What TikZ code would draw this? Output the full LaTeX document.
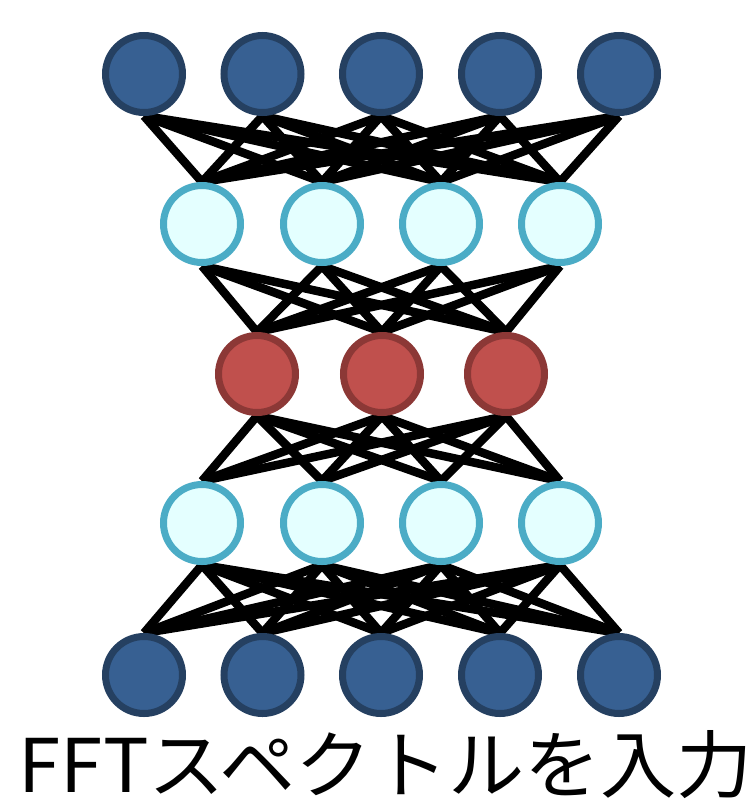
\documentclass[tikz,border=0pt]{standalone}
\usepackage{fontspec}
\newfontfamily\jpfont[FakeStretch=1.03]{Noto Sans CJK JP}
\usetikzlibrary{backgrounds}
\definecolor{inFill}{RGB}{55,96,146}
\definecolor{inRing}{RGB}{37,64,97}
\definecolor{hidFill}{RGB}{228,255,255}
\definecolor{hidRing}{RGB}{75,172,198}
\definecolor{midFill}{RGB}{192,80,77}
\definecolor{midRing}{RGB}{140,56,54}
\tikzset{
  neuron/.style={circle, minimum size=77pt, inner sep=0pt, line width=7pt},
  outer/.style={neuron, fill=inFill, draw=inRing},
  hidden/.style={neuron, fill=hidFill, draw=hidRing},
  code/.style={neuron, fill=midFill, draw=midRing},
  link/.style={line width=8.5pt, black}
}
\begin{document}
\begin{tikzpicture}[x=1pt, y=-1pt]
\useasboundingbox (0,0) rectangle (752,801);
% input / output layers
\foreach \i/\x in {1/144, 2/262.5, 3/381, 4/500, 5/619} {
  \node[outer] (a\i) at (\x,74) {};
  \node[outer] (e\i) at (\x,675) {};
}
% hidden layers
\foreach \i/\x in {1/202, 2/322, 3/441, 4/560} {
  \node[hidden] (b\i) at (\x,224) {};
  \node[hidden] (d\i) at (\x,523) {};
}
% bottleneck layer
\foreach \i/\x in {1/257, 2/382, 3/506} {
  \node[code] (c\i) at (\x,374) {};
}
% full connections between neighbouring layers
\begin{pgfonlayer}{background}
\foreach \i in {1,...,5} \foreach \j in {1,...,4} {
  \draw[link] (a\i.south) -- (b\j.north);
  \draw[link] (d\j.south) -- (e\i.north);
}
\foreach \i in {1,...,4} \foreach \j in {1,...,3} {
  \draw[link] (b\i.south) -- (c\j.north);
  \draw[link] (c\j.south) -- (d\i.north);
}
\end{pgfonlayer}
\node[anchor=base, inner sep=0pt, font=\jpfont\fontsize{74}{80}\selectfont] (caption) at (386,792) {FFTスペクトルを入力};
\end{tikzpicture}
\end{document}
